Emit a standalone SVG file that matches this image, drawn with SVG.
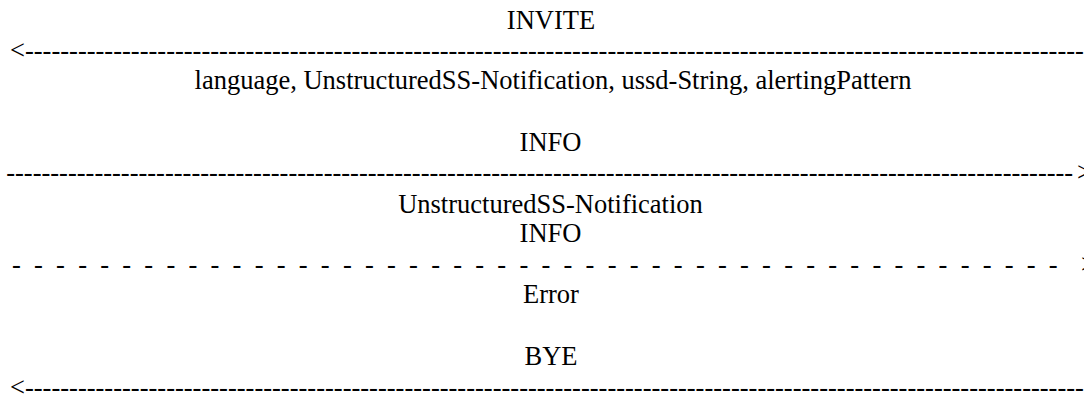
<svg xmlns="http://www.w3.org/2000/svg" width="1084" height="394" viewBox="0 0 1084 394">
  <style>
    text { font-family: "Liberation Serif", "Times New Roman", serif; font-size: 26.5px; fill: #000; }
    .lbl { text-anchor: middle; }
  </style>
  <rect width="1084" height="394" fill="#fff"/>
  <g id="msg-invite">
    <text class="lbl" x="551" y="29">INVITE</text>
    <text class="lbl" x="553" y="88.5">language, UnstructuredSS-Notification, ussd-String, alertingPattern</text>
  </g>
  <g id="msg-info1">
    <text class="lbl" x="550.5" y="151">INFO</text>
    <text class="lbl" x="550.5" y="212.5">UnstructuredSS-Notification</text>
  </g>
  <g id="msg-info2">
    <text class="lbl" x="550.5" y="242">INFO</text>
    <text class="lbl" x="551" y="303">Error</text>
  </g>
  <g id="msg-bye">
    <text class="lbl" x="551" y="365">BYE</text>
  </g>
  <g id="connectors">
    <text x="10" y="58.5">&lt;--------------------------------------------------------------------------------------------------------------------------</text>
    <text x="6.2" y="181" textLength="1067" lengthAdjust="spacing">-------------------------------------------------------------------------------------------------------------------------</text>
    <text x="1077" y="181">&gt;</text>
    <text x="12" y="272.5" textLength="1045.7" lengthAdjust="spacing">- - - - - - - - - - - - - - - - - - - - - - - - - - - - - - - - - - - - - - - - - - - - - - - -</text>
    <text x="1081" y="272.5">&gt;</text>
    <text x="10" y="395.5">&lt;--------------------------------------------------------------------------------------------------------------------------</text>
  </g>
</svg>
